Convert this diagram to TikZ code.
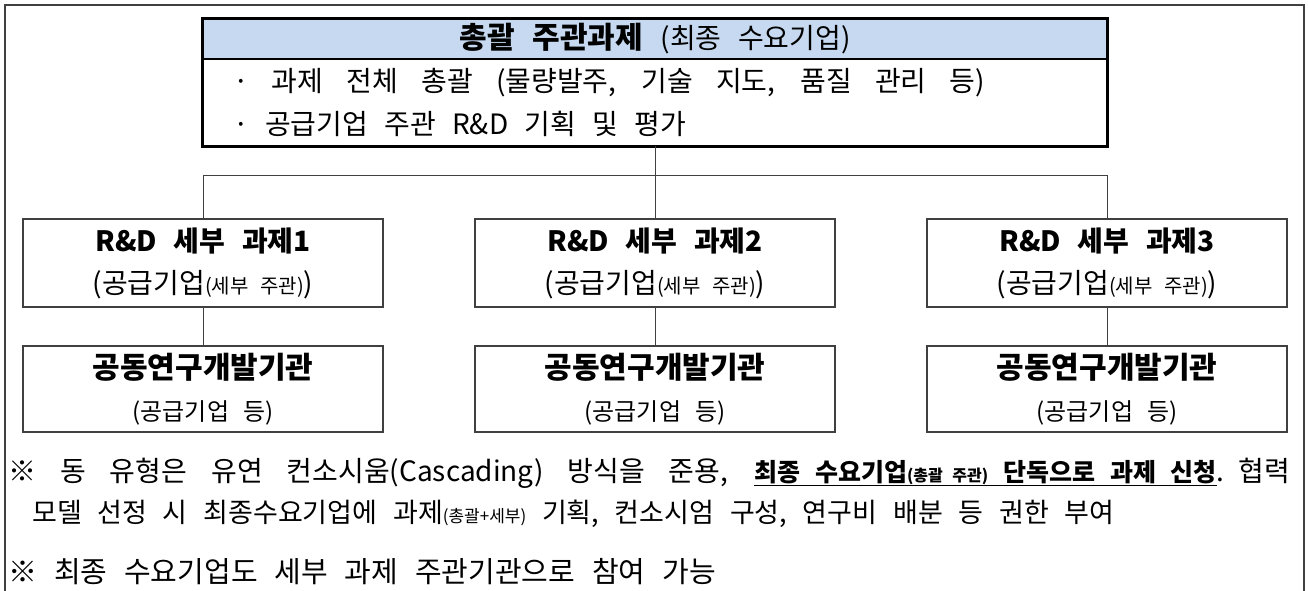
\documentclass[tikz,border=0pt]{standalone}
\usepackage{fontspec}
\setmainfont[WordSpace={2.6,2.6,2.6}]{Noto Sans CJK KR}
\definecolor{headblue}{RGB}{198,217,241}
\definecolor{linegray}{RGB}{64,64,64}
\newcommand{\fs}[1]{\fontsize{#1}{#1}\selectfont}

\begin{document}
\begin{tikzpicture}[x=1pt,y=-1pt,inner sep=0pt,
        box/.style={draw=linegray, line width=1.5pt, minimum width=360pt, align=center,
            font=\fontsize{28}{42}\selectfont},
        link/.style={draw=linegray, line width=1pt},
        note/.style={anchor=base west, font=\fs{27}}]
        \useasboundingbox (0,0) rectangle (1308,590);
        \draw [draw=linegray, line width=1.5pt] (5,595) |- (1304,5) -- (1304,595);

        % top box
        \node [fill=headblue, minimum width=904pt, minimum height=40pt] (head) at (655,39)
            {{\fs{30}\bfseries 총괄 주관과제 }{\fs{28}(최종 수요기업)}};
        \node [minimum width=904pt, minimum height=87pt, text width=844pt, inner xsep=30pt,
            align=flush left, font=\fontsize{28}{43}\selectfont] (body) at (655,102.5)
            {\spaceskip=0pt\xspaceskip=0pt
             \hbox to 752pt{· 과제 전체 총괄 (물량발주, 기술 지도, 품질 관리 등)}\\
             · 공급기업 주관 R\&D 기획 및 평가};
        \draw [line width=3pt] (head.north west) rectangle (body.south east);
        \draw [line width=2.5pt] (head.south west) -- (head.south east);

        \foreach \i/\x in {1/203,2/655,3/1107} {
            \node [box, minimum height=88pt] (sub\i) at (\x,263)
                {{\fs{28}\bfseries R\&D 세부 과제\i}\\(공급기업{\fs{20}(세부 주관)})};
            \node [box, minimum height=86pt] (joint\i) at (\x,389)
                {{\fs{30}\bfseries 공동연구개발기관}\\{\fs{24}(공급기업 등)}};
            \draw [link] (sub\i) -- (joint\i);
        }
        \draw [link] (body.south) -- ++(0,29) coordinate (hub);
        \draw [link] (sub1.north) |- (hub) -| (sub3.north);
        \draw [link] (hub) -- (sub2.north);

        % notes
        \node [note, font=\fs{28}] (note1) at (8,481) {\hbox to 1282pt{※ 동 유형은 유연 컨소시움(Cascading) 방식을 준용,
            \underline{\bfseries\fs{25}최종 수요기업{\fs{16}(총괄 주관)} 단독으로 과제 신청}.\hspace{14pt}협력}};
        \node [note] (note2) at (32,522) {모델 선정 시 최종수요기업에 과제{\fs{17}(총괄+세부)} 기획,
            컨소시엄 구성, 연구비 배분 등 권한 부여};
        \node [note, font=\fs{29}] (note3) at (8,582) {※ 최종 수요기업도 세부 과제 주관기관으로 참여 가능};
\end{tikzpicture}
\end{document}
